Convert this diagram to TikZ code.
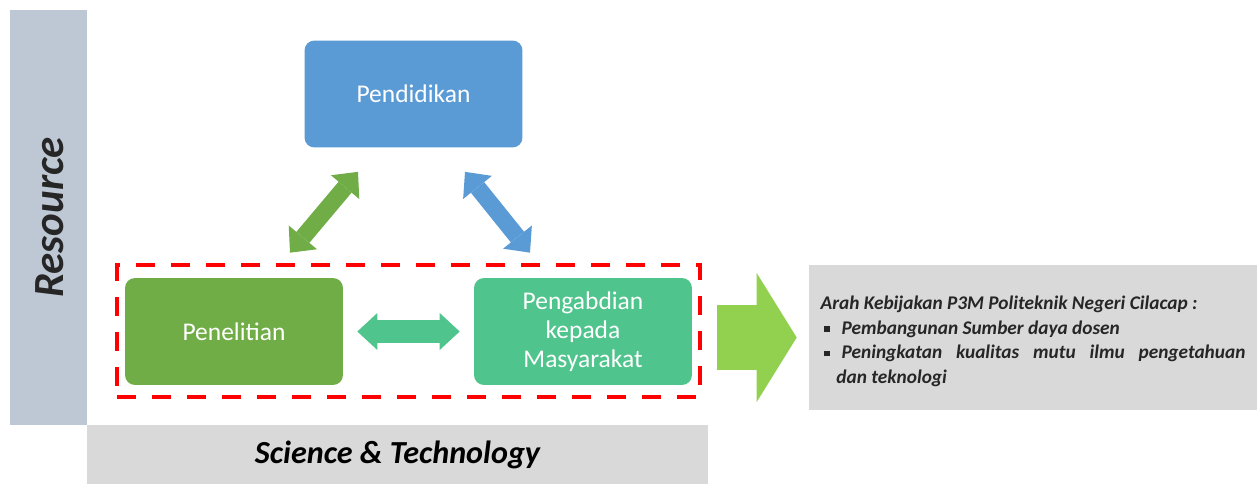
\documentclass[tikz,border=0pt]{standalone}
\usepackage{fontspec}
\setmainfont{Carlito}
\usetikzlibrary{arrows.meta}
\definecolor{resgray}{RGB}{190,200,213}
\definecolor{lgray}{RGB}{217,217,217}
\definecolor{pblue}{RGB}{91,155,213}
\definecolor{pgreen}{RGB}{112,173,71}
\definecolor{pmint}{RGB}{80,196,141}
\definecolor{plime}{RGB}{146,208,80}
\definecolor{txtdark}{RGB}{38,38,38}
\newcommand{\bul}{\raisebox{1.5pt}{\rule{3.1pt}{3.1pt}}}

\begin{document}
\begin{tikzpicture}[x=0.02cm, y=-0.02cm]
    % Styles
    \tikzstyle{block} = [rectangle, rounded corners=0.2cm, minimum width=4.36cm, minimum height=2.14cm, text=white, align=center, font=\fontsize{14.5}{16.4}\selectfont]
    \tikzstyle{bar} = [rectangle, inner sep=0pt, text=txtdark, font=\fontsize{18.3}{22}\selectfont\bfseries\itshape]
    \tikzstyle{twoway} = [line width=0.34cm, {Triangle[width=0.74cm, length=0.4cm, line width=0pt]}-{Triangle[width=0.74cm, length=0.4cm, line width=0pt]}]
    \useasboundingbox (0,0) rectangle (1257,484);

    % Side bars
    \node[bar, fill=resgray, minimum width=1.54cm, minimum height=8.3cm] (res) at (48.5,217.5) {};
    \node[rotate=90, text=txtdark, font=\fontsize{24.5}{28}\selectfont\bfseries\itshape] (restext) at (50,217.5) {Resource};
    \node[bar, fill=lgray, minimum width=12.42cm, minimum height=1.18cm, text=black] (sci) at (397.5,454.5) {Science \& Technology};

    % Nodes
    \node[block, fill=pblue] (pend) at (413.5,94) {Pendidikan};
    \node[block, fill=pgreen] (pel) at (234,331.5) {Penelitian};
    \node[block, fill=pmint] (peng) at (583,331.5) {Pengabdian\\kepada\\Masyarakat};
    \node[draw=red, line width=0.08cm, dash pattern=on 0.38cm off 0.32cm, minimum width=11.66cm, minimum height=2.64cm] (dash) at (408.5,331) {};

    \node[rectangle, fill=lgray, minimum width=8.96cm, minimum height=2.9cm, inner sep=0pt, text=txtdark, font=\fontsize{11}{14}\selectfont\bfseries\itshape] (info) at (1033,337.5) {\parbox{8.5cm}{%
        \vspace*{4.5pt}\noindent Arah Kebijakan P3M Politeknik Negeri Cilacap :\par
        \noindent\hangindent=9pt\hangafter=1\hspace*{2pt}\makebox[10pt][l]{\bul}Pembangunan Sumber daya dosen\par
        \noindent\hangindent=9pt\hangafter=1\hspace*{2pt}\makebox[10pt][l]{\bul}Peningkatan kualitas mutu ilmu pengetahuan\linebreak dan teknologi\par}};

    % Arrows
    \draw[twoway, pgreen] ([shift={(56,-25)}]pel.north) -- ([shift={(-55.5,24)}]pend.south);
    \draw[twoway, pblue] ([shift={(51.5,24)}]pend.south) -- ([shift={(-53,-25)}]peng.north);
    \draw[pmint, line width=0.46cm, {Triangle[width=0.74cm, length=0.4cm, line width=0pt]}-{Triangle[width=0.74cm, length=0.4cm, line width=0pt]}] ([xshift=0.28cm]pel.east) -- ([xshift=-0.28cm]peng.west);
    \draw[plime, line width=1.3cm, -{Triangle[width=2.58cm, length=0.8cm, line width=0pt]}] ([shift={(15,6.5)}]dash.east) -- ([xshift=-0.24cm]info.west);

\end{tikzpicture}
\end{document}
